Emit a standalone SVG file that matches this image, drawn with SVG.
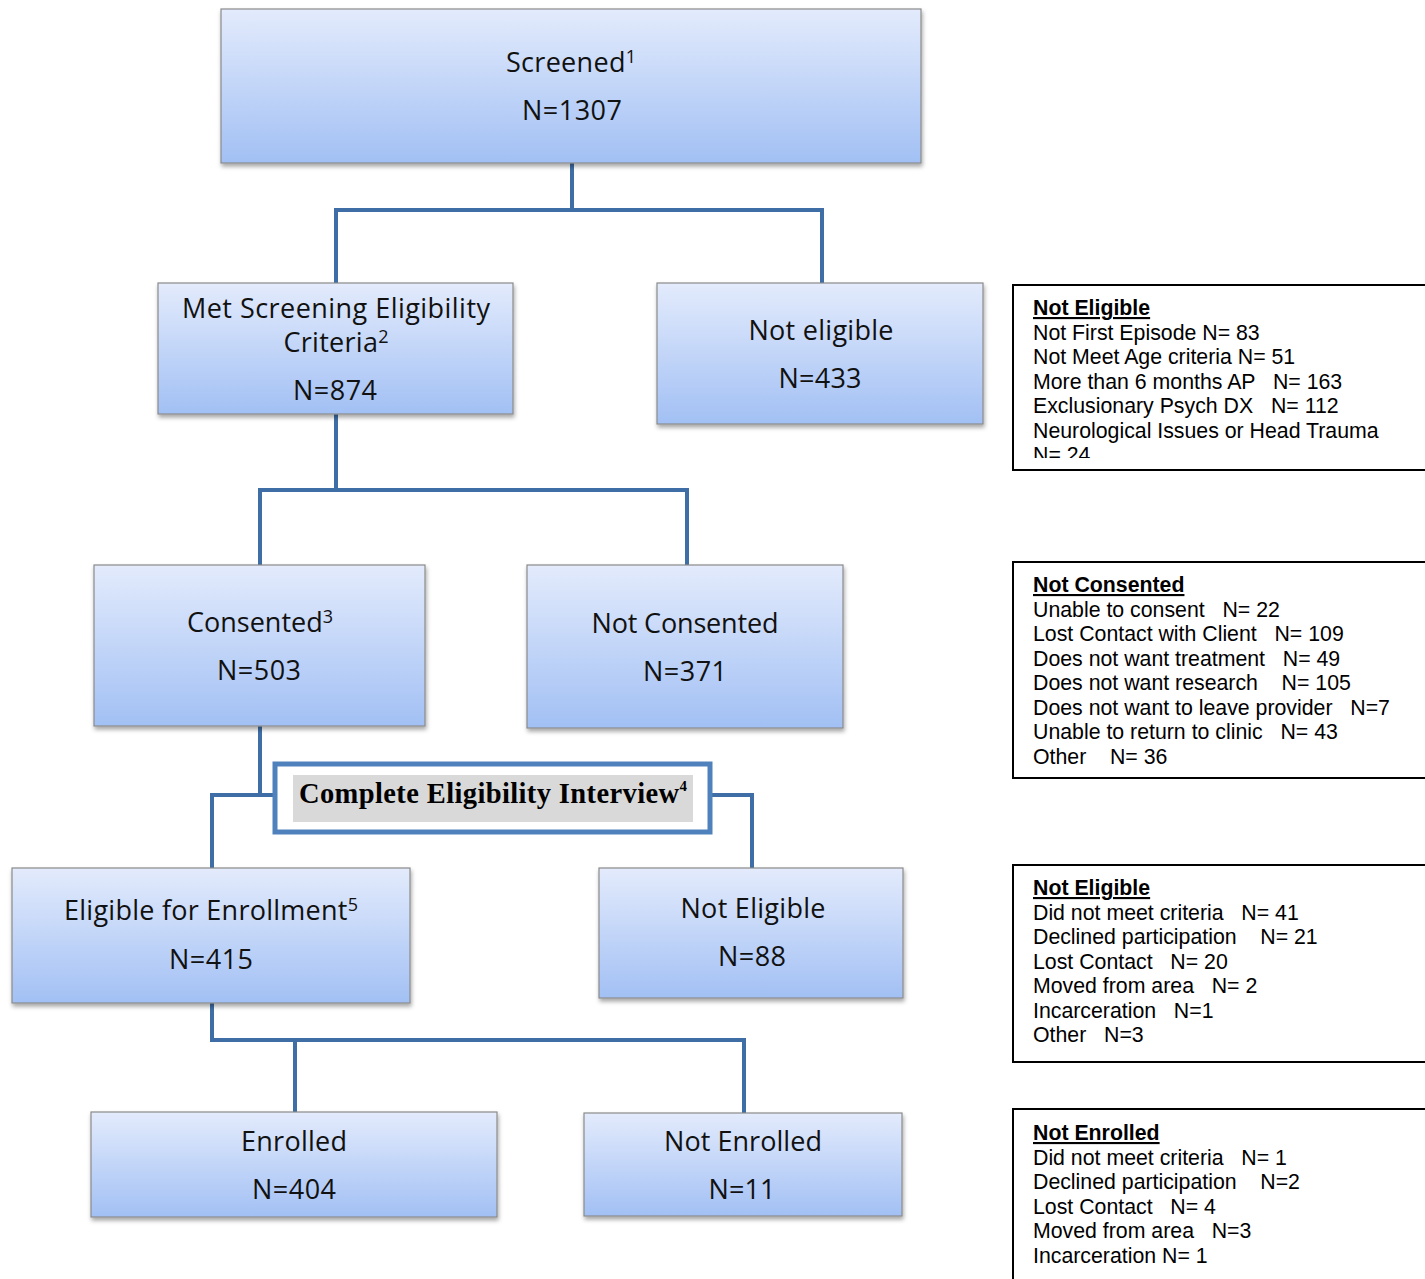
<svg xmlns="http://www.w3.org/2000/svg" width="1425" height="1279" viewBox="0 0 1425 1279">
<defs>
<linearGradient id="g" x1="0" y1="0" x2="0" y2="1">
<stop offset="0" stop-color="#e3ebfc"/>
<stop offset="1" stop-color="#a2c0f4"/>
</linearGradient>
<filter id="sh" x="-5%" y="-10%" width="110%" height="125%">
<feDropShadow dx="1" dy="3" stdDeviation="2" flood-color="#000" flood-opacity="0.35"/>
</filter>
<clipPath id="c1"><rect x="1014" y="286" width="411" height="172"/></clipPath>
<style>
.box{fill:url(#g);stroke:#8a8a8a;stroke-width:1.2;filter:url(#sh)}
.lbl{font-family:"Open Sans","Noto Sans",sans-serif;font-size:27px;fill:#111;text-anchor:middle}
.sup{font-size:18px}
.con{fill:none;stroke:#3e6ea5;stroke-width:4;stroke-linejoin:miter}
.side{fill:#fff;stroke:#000;stroke-width:2}
.st{font-family:"Liberation Sans",Arial,sans-serif;font-size:21.3px;fill:#000;white-space:pre}
.hd{font-weight:bold;text-decoration:underline}
</style>
</defs>
<rect width="1425" height="1279" fill="#fff"/>

<g id="connectors">
<path class="con" d="M572,163 V210 M336,283 V210 H822 V283"/>
<path class="con" d="M336,414 V490 M260,565 V490 H687 V565"/>
<path class="con" d="M260,726 V795 H275 M212,868 V795 H260 M710,795 H752 V868"/>
<path class="con" d="M212,1003 V1040 H744 V1113 M295,1040 V1112"/>
</g>

<g id="screened">
<rect class="box" x="221" y="9" width="700" height="154"/>
<text class="lbl" x="571" y="72" textLength="130">Screened<tspan class="sup" dy="-9">1</tspan></text>
<text class="lbl" x="572" y="120" textLength="100">N=1307</text>
</g>

<g id="met">
<rect class="box" x="158" y="283" width="355" height="131"/>
<text class="lbl" x="336" y="318" textLength="308">Met Screening Eligibility</text>
<text class="lbl" x="336" y="352" textLength="105">Criteria<tspan class="sup" dy="-9">2</tspan></text>
<text class="lbl" x="335" y="400" textLength="84">N=874</text>
</g>

<g id="noteligible1">
<rect class="box" x="657" y="283" width="326" height="141"/>
<text class="lbl" x="821" y="340" textLength="145">Not eligible</text>
<text class="lbl" x="820" y="388" textLength="83">N=433</text>
</g>

<g id="consented">
<rect class="box" x="94" y="565" width="331" height="161"/>
<text class="lbl" x="260" y="632" textLength="146">Consented<tspan class="sup" dy="-9">3</tspan></text>
<text class="lbl" x="259" y="680" textLength="84">N=503</text>
</g>

<g id="notconsented">
<rect class="box" x="527" y="565" width="316" height="163"/>
<text class="lbl" x="685" y="633" textLength="187">Not Consented</text>
<text class="lbl" x="685" y="681" textLength="84">N=371</text>
</g>

<g id="cei">
<rect x="275" y="764" width="435" height="68" fill="#fff" stroke="#4f81bd" stroke-width="5"/>
<rect x="293" y="775" width="400" height="47" fill="#d9d9d9"/>
<text x="299" y="803" font-family="'Liberation Serif','Times New Roman',serif" font-weight="bold" font-size="28.5" fill="#000" textLength="388">Complete Eligibility Interview<tspan font-size="15" dy="-12">4</tspan></text>
</g>

<g id="eligible">
<rect class="box" x="12" y="868" width="398" height="135"/>
<text class="lbl" x="211" y="920" textLength="294">Eligible for Enrollment<tspan class="sup" dy="-9">5</tspan></text>
<text class="lbl" x="211" y="969" textLength="84">N=415</text>
</g>

<g id="noteligible2">
<rect class="box" x="599" y="868" width="304" height="130"/>
<text class="lbl" x="753" y="918" textLength="145">Not Eligible</text>
<text class="lbl" x="752" y="966" textLength="68">N=88</text>
</g>

<g id="enrolled">
<rect class="box" x="91" y="1112" width="406" height="105"/>
<text class="lbl" x="294" y="1151" textLength="106">Enrolled</text>
<text class="lbl" x="294" y="1199" textLength="84">N=404</text>
</g>

<g id="notenrolled">
<rect class="box" x="584" y="1113" width="318" height="103"/>
<text class="lbl" x="743" y="1151" textLength="158">Not Enrolled</text>
<text class="lbl" x="742" y="1199" textLength="67">N=11</text>
</g>

<g id="side1">
<rect class="side" x="1013" y="285" width="420" height="185"/>
<g clip-path="url(#c1)">
<text class="st" x="1033"><tspan class="hd" x="1033" y="315">Not Eligible</tspan><tspan x="1033" y="340">Not First Episode N= 83</tspan><tspan x="1033" y="364">Not Meet Age criteria N= 51</tspan><tspan x="1033" y="389">More than 6 months AP   N= 163</tspan><tspan x="1033" y="413">Exclusionary Psych DX   N= 112</tspan><tspan x="1033" y="438">Neurological Issues or Head Trauma</tspan><tspan x="1033" y="462">N= 24</tspan></text>
</g>
</g>

<g id="side2">
<rect class="side" x="1013" y="562" width="420" height="216"/>
<text class="st"><tspan class="hd" x="1033" y="592">Not Consented</tspan><tspan x="1033" y="617">Unable to consent   N= 22</tspan><tspan x="1033" y="641">Lost Contact with Client   N= 109</tspan><tspan x="1033" y="666">Does not want treatment   N= 49</tspan><tspan x="1033" y="690">Does not want research    N= 105</tspan><tspan x="1033" y="715">Does not want to leave provider   N=7</tspan><tspan x="1033" y="739">Unable to return to clinic   N= 43</tspan><tspan x="1033" y="764">Other    N= 36</tspan></text>
</g>

<g id="side3">
<rect class="side" x="1013" y="865" width="420" height="197"/>
<text class="st"><tspan class="hd" x="1033" y="895">Not Eligible</tspan><tspan x="1033" y="920">Did not meet criteria   N= 41</tspan><tspan x="1033" y="944">Declined participation    N= 21</tspan><tspan x="1033" y="969">Lost Contact   N= 20</tspan><tspan x="1033" y="993">Moved from area   N= 2</tspan><tspan x="1033" y="1018">Incarceration   N=1</tspan><tspan x="1033" y="1042">Other   N=3</tspan></text>
</g>

<g id="side4">
<rect class="side" x="1013" y="1109" width="420" height="190"/>
<text class="st"><tspan class="hd" x="1033" y="1140">Not Enrolled</tspan><tspan x="1033" y="1165">Did not meet criteria   N= 1</tspan><tspan x="1033" y="1189">Declined participation    N=2</tspan><tspan x="1033" y="1214">Lost Contact   N= 4</tspan><tspan x="1033" y="1238">Moved from area   N=3</tspan><tspan x="1033" y="1263">Incarceration N= 1</tspan></text>
</g>
</svg>
